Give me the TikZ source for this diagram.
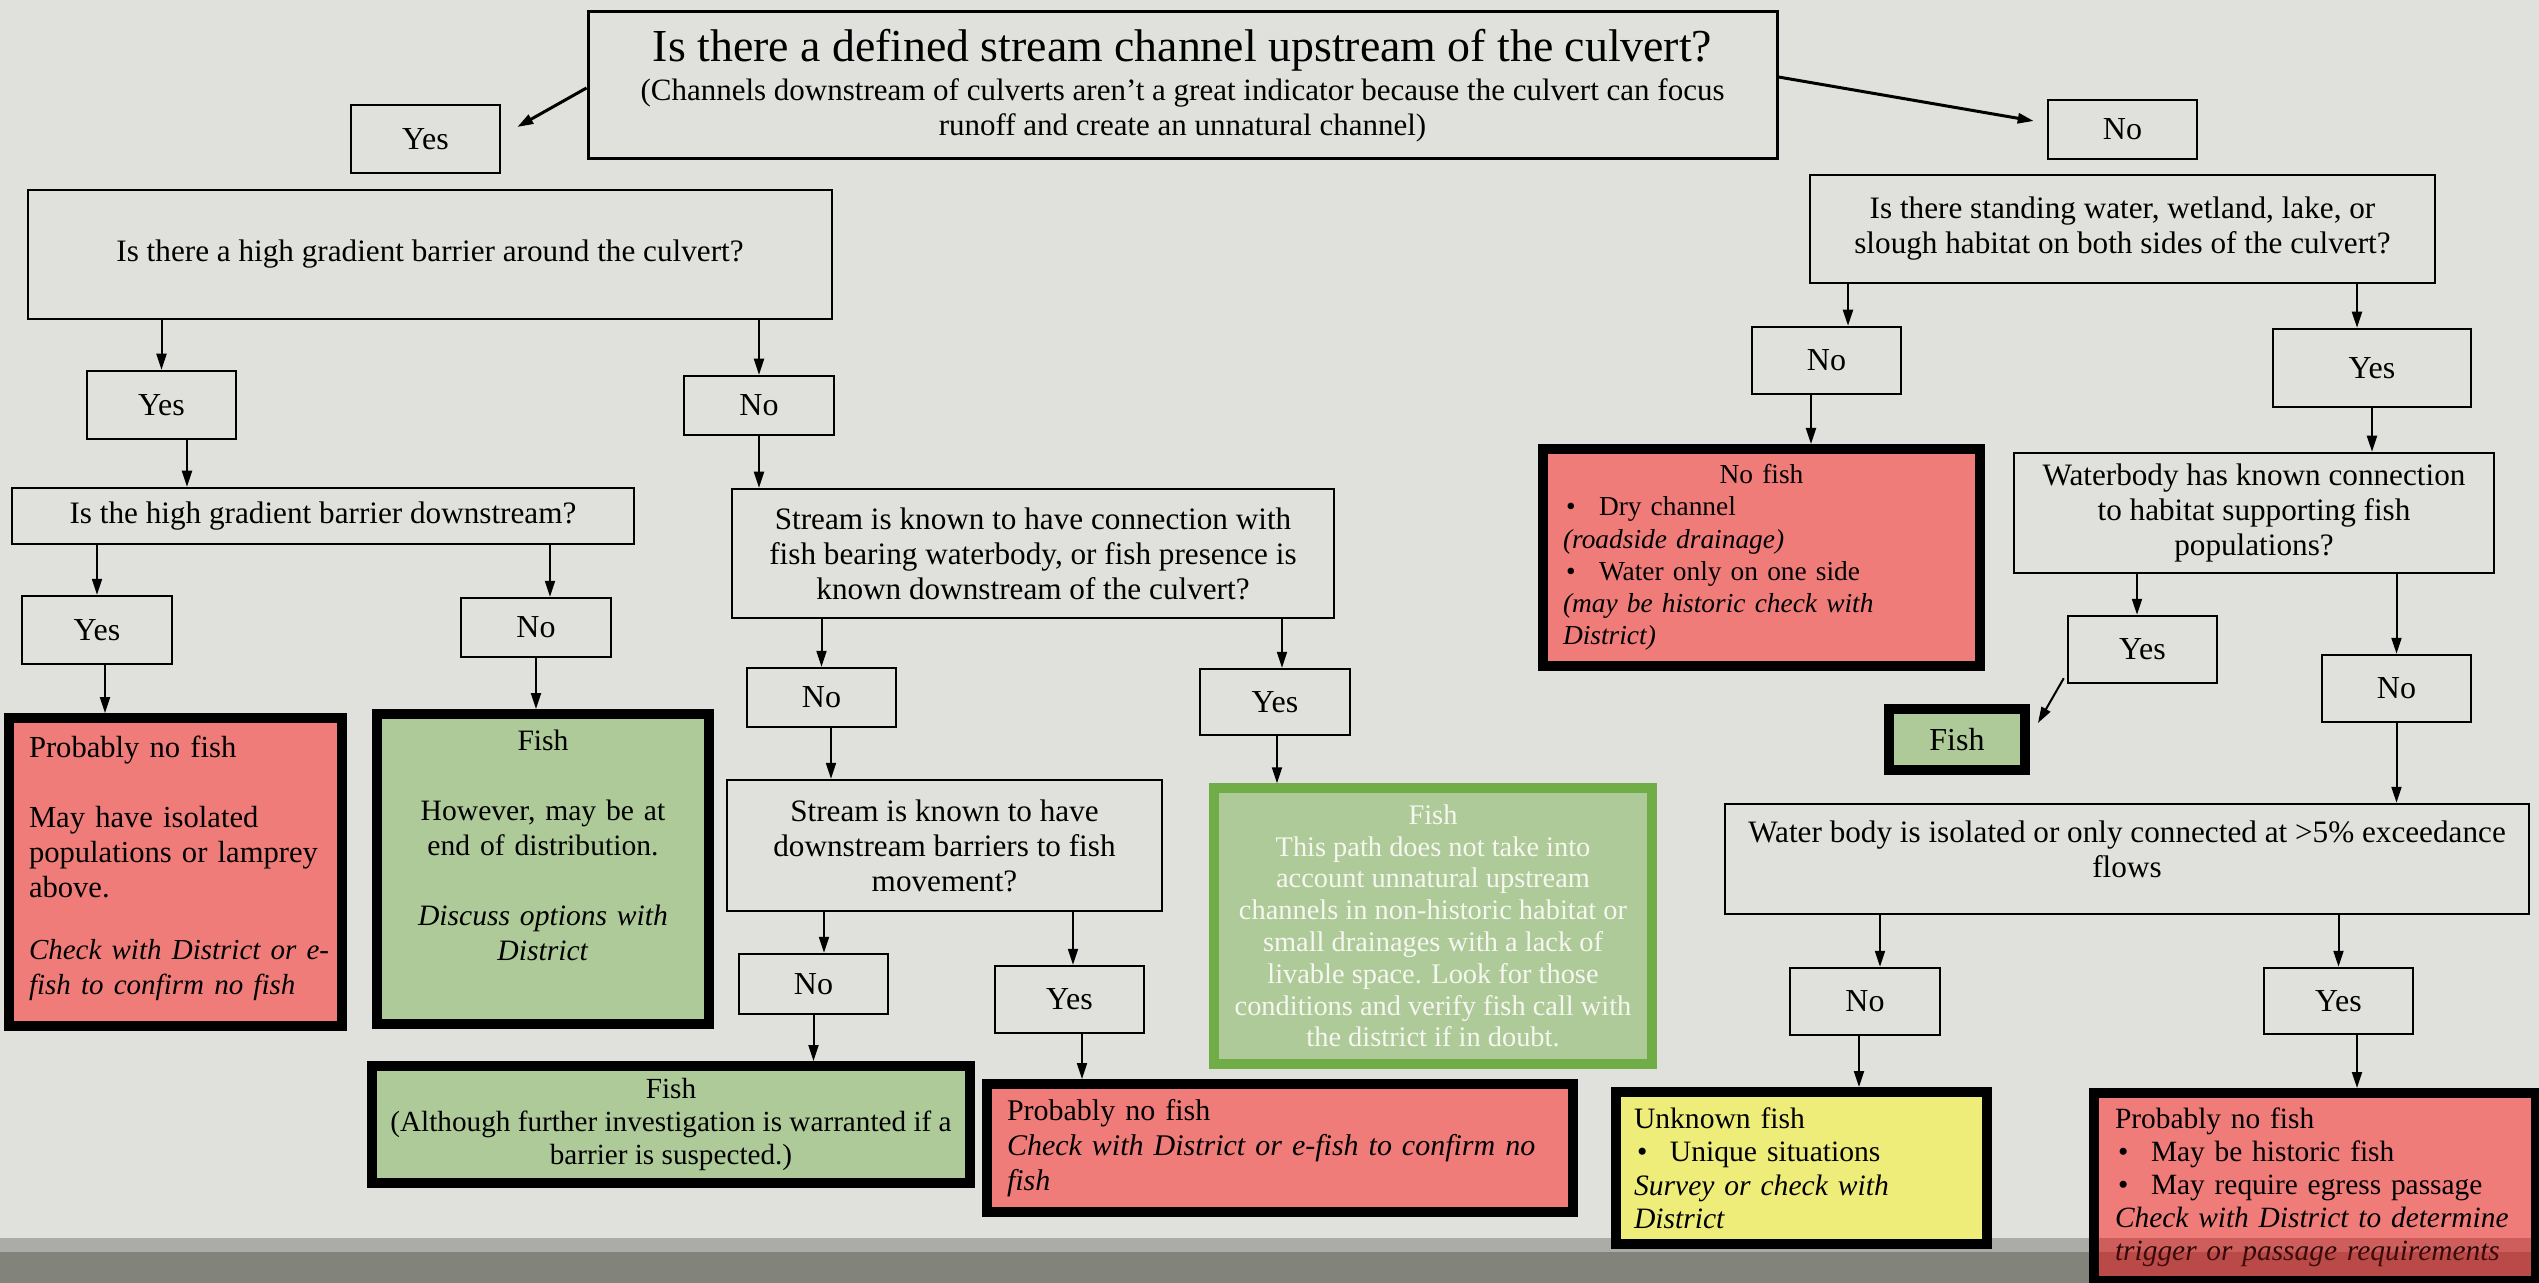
\documentclass[tikz,border=0pt]{standalone}
\usepackage{fontspec}
\setmainfont{Liberation Serif}
\usetikzlibrary{arrows.meta}
\definecolor{bg}{HTML}{E0E1DC}
\definecolor{redf}{HTML}{EF7C78}
\definecolor{greenf}{HTML}{AECA98}
\definecolor{glborder}{HTML}{70AD47}
\definecolor{yellowf}{HTML}{EEED7A}
\definecolor{bandl}{HTML}{ABACA7}
\definecolor{bandd}{HTML}{82837B}
\definecolor{overl}{HTML}{841919}
\definecolor{wtext}{HTML}{F7F7F2}
\newcommand\fs[2]{\fontsize{#1pt}{#2pt}\selectfont}
\newcommand\bul{\makebox[18pt][l]{\hspace{1.5pt}•}}
\newcommand\itl[1]{\mbox{\fs{14.5}{17.5}\itshape #1}}
\tikzset{
  sz/.style 2 args={minimum width=#1*0.5pt, minimum height=#2*0.5pt},
  qbox/.style={draw=black, line width=1.25pt, inner sep=0pt, align=center, font=\fs{15.6}{17.5}},
  ynbox/.style={draw=black, line width=1.25pt, inner sep=0pt, align=center, font=\fs{16}{17.5}},
  thickbox/.style={draw=black, line width=5pt, inner sep=0pt},
  arr/.style={-{Triangle[length=8pt,width=5pt]}, line width=1pt},
}
\begin{document}
\begin{tikzpicture}[x=0.5pt,y=-0.5pt]
\useasboundingbox (0,0) rectangle (2539,1283);
\fill[bg] (0,0) rectangle (2539,1283);
\fill[bandl] (0,1238) rectangle (2539,1252);
\fill[bandd] (0,1252) rectangle (2539,1283);

% top question
\node[qbox, line width=1.5pt, sz={1189}{147}, font=\fs{15.5}{17.5}] (top) at (1182.5,85.5)
  {{\fs{22.9}{17.5}Is there a defined stream channel upstream of the culvert?}\\[2pt]
   (Channels downstream of culverts aren’t a great indicator because the culvert can focus\\
   runoff and create an unnatural channel)};
\node[ynbox, sz={149}{68}] (yes1) at (425.5,139) {Yes};
\node[ynbox, sz={149}{59}] (no1) at (2122.5,129.5) {No};

% left branch
\node[qbox, sz={804}{129}] (q2) at (430,254.5) {Is there a high gradient barrier around the culvert?};
\node[ynbox, sz={149}{68}] (yes2) at (161.5,405) {Yes};
\node[ynbox, sz={150}{59}] (no2) at (759,405.5) {No};
\node[qbox, sz={622}{56}] (q3) at (323,516) {Is the high gradient barrier downstream?};
\node[ynbox, sz={150}{68}] (yes3) at (97,630) {Yes};
\node[ynbox, sz={150}{59}] (no3) at (536,627.5) {No};
\node[thickbox, fill=redf, sz={333}{308}, text width=146.5pt, align=left, font=\fs{15.3}{17.5}] (r1) at (175.5,872)
  {\mbox{Probably no fish}\\ \mbox{}\\ \mbox{May have isolated}\\ \mbox{populations or lamprey}\\ \mbox{above.}\\ \mbox{}\\[-4pt]
   \itl{Check with District or e-}\\ \itl{fish to confirm no fish}\\[-10.5pt] \mbox{}};
\node[thickbox, fill=greenf, sz={332}{310}, text width=150pt, align=center, font=\fs{14.8}{17.5}] (g1) at (543,869)
  {Fish\\ \mbox{}\\ However, may be at\\ end of distribution.\\ \mbox{}\\ \textit{Discuss options with}\\ \textit{District}\\[6.5pt] \mbox{}};

% middle branch
\node[qbox, sz={602}{129}] (q4) at (1033,553.5)
  {Stream is known to have connection with\\ fish bearing waterbody, or fish presence is\\ known downstream of the culvert?};
\node[ynbox, sz={149}{59}] (no4) at (821.5,697.5) {No};
\node[ynbox, sz={150}{66}] (yes4) at (1275,702) {Yes};
\node[qbox, sz={435}{131}] (q5) at (944.5,845.5)
  {Stream is known to have\\ downstream barriers to fish\\ movement?};
\node[ynbox, sz={149}{60}] (no5) at (813.5,984) {No};
\node[ynbox, sz={149}{67}] (yes5) at (1069.5,999.5) {Yes};
\node[thickbox, fill=greenf, sz={598}{117}, align=center, font=\fs{14.6}{16.5}] (g2) at (671,1124.5)
  {Fish\\ (Although further investigation is warranted if a\\ barrier is suspected.)};
\node[thickbox, fill=redf, sz={586}{128}, text width=273pt, align=left, font=\fs{15}{17.5}] (r2) at (1280,1148)
  {\mbox{Probably no fish}\\ \mbox{\itshape Check with District or e-fish to confirm no}\\ \mbox{\itshape fish}};
\node[thickbox, draw=glborder, line width=4.75pt, fill=greenf, sz={438}{276}, align=center, font=\fs{14.2}{15.9}, text=wtext] (gl) at (1433,926)
  {Fish\\ This path does not take into\\ account unnatural upstream\\ channels in non-historic habitat or\\ small drainages with a lack of\\ livable space. Look for those\\ conditions and verify fish call with\\ the district if in doubt.};

% right branch
\node[qbox, sz={625}{108}] (q6) at (2122.5,229)
  {Is there standing water, wetland, lake, or\\ slough habitat on both sides of the culvert?};
\node[ynbox, sz={149}{67}] (no6) at (1826.5,360.5) {No};
\node[ynbox, sz={198}{78}] (yes6) at (2372,368) {Yes};
\node[thickbox, fill=redf, sz={437}{217}, text width=198.5pt, align=left, font=\fs{13.7}{16.1}] (r3) at (1761.5,557.5)
  {\makebox[198.5pt]{No fish}\\ \mbox{\bul Dry channel}\\ \mbox{\itshape (roadside drainage)}\\ \mbox{\bul Water only on one side}\\
   \mbox{\itshape (may be historic check with}\\ \mbox{\itshape District)}};
\node[qbox, sz={480}{120}] (q7) at (2254,513)
  {Waterbody has known connection\\ to habitat supporting fish\\ populations?};
\node[ynbox, sz={149}{67}] (yes7) at (2142.5,649.5) {Yes};
\node[ynbox, sz={149}{67}] (no7) at (2396.5,688.5) {No};
\node[thickbox, fill=greenf, sz={136}{61}, font=\fs{16}{17.5}] (gf) at (1957,739.5) {Fish};
\node[qbox, sz={804}{110}] (q8) at (2127,859)
  {Water body is isolated or only connected at >5\% exceedance\\ flows\\[-7.5pt] \mbox{}};
\node[ynbox, sz={150}{67}] (no8) at (1865,1001.5) {No};
\node[ynbox, sz={149}{66}] (yes8) at (2338.5,1001) {Yes};
\node[thickbox, fill=yellowf, sz={371}{152}, text width=167.5pt, align=left, font=\fs{14.8}{16.75}] (y1) at (1801.5,1168)
  {\mbox{Unknown fish}\\ \mbox{\bul Unique situations}\\ \mbox{\itshape Survey or check with}\\ \mbox{\itshape District}};
\node[thickbox, fill=redf, sz={442}{188}, text width=200pt, align=left, font=\fs{14.7}{16.5}] (r4) at (2315,1187)
  {\mbox{Probably no fish}\\ \mbox{\bul May be historic fish}\\ \mbox{\bul May require egress passage}\\
   \mbox{\itshape Check with District to determine}\\ \mbox{\itshape trigger or passage requirements}};
\fill[overl, fill opacity=0.3] (2099,1238) rectangle (2531,1252);
\fill[overl, fill opacity=0.5] (2099,1252) rectangle (2531,1276);

% connectors
\draw[arr, line width=1.5pt] ([yshift=-1.25pt]top.west) -- ([xshift=8pt,yshift=6pt]yes1.east);
\draw[arr, line width=1.5pt] ([yshift=4.25pt]top.east) -- ([xshift=-6.5pt,yshift=4.25pt]no1.west);
\draw[arr] (yes2.north |- q2.south) -- (yes2.north);
\draw[arr] (no2.north |- q2.south) -- (no2.north);
\draw[arr] ([xshift=12.75pt]yes2.south) -- ([xshift=12.75pt]yes2.south |- q3.north);
\draw[arr] (yes3.north |- q3.south) -- (yes3.north);
\draw[arr] ([xshift=7pt]no3.north |- q3.south) -- ([xshift=7pt]no3.north);
\draw[arr] ([xshift=4pt]yes3.south) -- ([xshift=4pt]yes3.south |- r1.north);
\draw[arr] (no3.south) -- (no3.south |- g1.north);
\draw[arr] (no2.south) -- (no2.south |- q4.north);
\draw[arr] (no4.north |- q4.south) -- (no4.north);
\draw[arr] ([xshift=3.5pt]yes4.north |- q4.south) -- ([xshift=3.5pt]yes4.north);
\draw[arr] ([xshift=4.75pt]no4.south) -- ([xshift=4.75pt]no4.south |- q5.north);
\draw[arr] ([xshift=1pt]yes4.south) -- ([xshift=1pt]yes4.south |- gl.north);
\draw[arr] ([xshift=5.25pt]no5.north |- q5.south) -- ([xshift=5.25pt]no5.north);
\draw[arr] ([xshift=1.75pt]yes5.north |- q5.south) -- ([xshift=1.75pt]yes5.north);
\draw[arr] (no5.south) -- (no5.south |- g2.north);
\draw[arr] ([xshift=6.25pt]yes5.south) -- ([xshift=6.25pt]yes5.south |- r2.north);
\draw[arr] ([xshift=10.75pt]no6.north |- q6.south) -- ([xshift=10.75pt]no6.north);
\draw[arr] ([xshift=-7.5pt]yes6.north |- q6.south) -- ([xshift=-7.5pt]yes6.north);
\draw[arr] ([xshift=-7.75pt]no6.south) -- ([xshift=-7.75pt]no6.south |- r3.north);
\draw[arr] (yes6.south) -- (yes6.south |- q7.north);
\draw[arr] ([xshift=-2.75pt]yes7.north |- q7.south) -- ([xshift=-2.75pt]yes7.north);
\draw[arr] (no7.north |- q7.south) -- (no7.north);
\draw[arr] ([xshift=-1.5pt,yshift=3pt]yes7.south west) -- ([xshift=4pt,yshift=-9.5pt]gf.north east);
\draw[arr] (no7.south) -- (no7.south |- q8.north);
\draw[arr] ([xshift=7.5pt]no8.north |- q8.south) -- ([xshift=7.5pt]no8.north);
\draw[arr] (yes8.north |- q8.south) -- (yes8.north);
\draw[arr] ([xshift=-3pt]no8.south) -- ([xshift=-3pt]no8.south |- y1.north);
\draw[arr] ([xshift=9.25pt]yes8.south) -- ([xshift=9.25pt]yes8.south |- r4.north);
\end{tikzpicture}
\end{document}
